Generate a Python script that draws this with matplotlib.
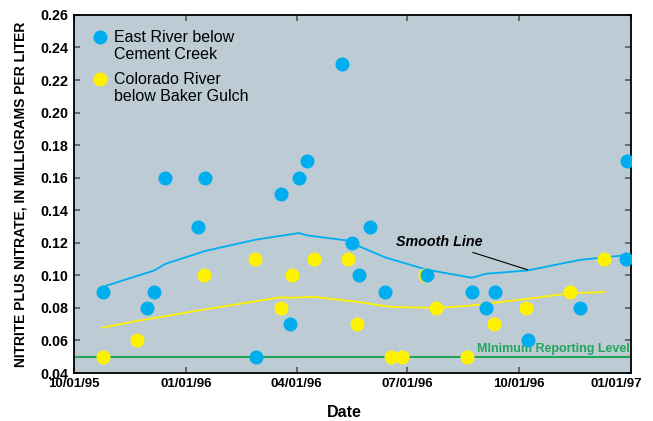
#!/usr/bin/env python
"""
Nitrite plus nitrate at two river sites, Oct 1995 - Dec 1996
"""

import matplotlib
matplotlib.use("Agg")
import matplotlib.pyplot as plt
import matplotlib.transforms as mtransforms
from matplotlib.legend_handler import HandlerLine2D
import numpy as np

plt.rcParams['font.family'] = ['Liberation Sans', 'DejaVu Sans']

# sample dates and values, East River below Cement Creek
EAST_DATES = ["1995-10-25", "1995-11-30", "1995-12-06", "1995-12-15",
              "1996-01-11", "1996-01-17", "1996-02-28", "1996-03-19",
              "1996-03-27", "1996-04-03", "1996-04-10", "1996-05-08",
              "1996-05-17", "1996-05-22", "1996-05-31", "1996-06-13",
              "1996-07-17", "1996-08-23", "1996-09-04", "1996-09-11",
              "1996-10-08", "1996-11-20", "1996-12-29", "1996-12-28"]
EAST_VALUES = [0.09, 0.08, 0.09, 0.16, 0.13, 0.16, 0.05, 0.15,
               0.07, 0.16, 0.17, 0.23, 0.12, 0.10, 0.13, 0.09,
               0.10, 0.09, 0.08, 0.09, 0.06, 0.08, 0.17, 0.11]

# sample dates and values, Colorado River below Baker Gulch
COLO_DATES = ["1995-10-25", "1995-11-22", "1996-01-16", "1996-02-27",
              "1996-03-19", "1996-03-28", "1996-04-15", "1996-05-13",
              "1996-05-21", "1996-06-18", "1996-06-27", "1996-07-16",
              "1996-07-25", "1996-08-19", "1996-09-10", "1996-10-07",
              "1996-11-12", "1996-12-10"]
COLO_VALUES = [0.05, 0.06, 0.10, 0.11, 0.08, 0.10, 0.11, 0.11,
               0.07, 0.05, 0.05, 0.10, 0.08, 0.05, 0.07, 0.08,
               0.09, 0.11]

# smooth lines
EAST_SMOOTH_DATES = ["1995-10-25", "1995-12-06", "1995-12-15", "1996-01-17",
                     "1996-02-28", "1996-04-03", "1996-04-10", "1996-05-17",
                     "1996-05-22", "1996-06-13", "1996-07-17", "1996-08-23",
                     "1996-09-04", "1996-10-08", "1996-11-20", "1996-12-29"]
EAST_SMOOTH = [0.093, 0.103, 0.107, 0.115, 0.122, 0.126, 0.1245, 0.121,
               0.118, 0.111, 0.1035, 0.0985, 0.101, 0.103, 0.1095, 0.1125]

COLO_SMOOTH_DATES = ["1995-10-25", "1995-11-22", "1996-01-16", "1996-03-19",
                     "1996-03-28", "1996-04-15", "1996-05-21", "1996-06-18",
                     "1996-07-25", "1996-08-19", "1996-10-07", "1996-11-12",
                     "1996-12-10"]
COLO_SMOOTH = [0.068, 0.072, 0.079, 0.0865, 0.0862, 0.0868, 0.0837, 0.0806,
               0.080, 0.0812, 0.0855, 0.089, 0.0897]

MIN_REPORTING = 0.05

TICK_DATES = ["1995-10-01", "1996-01-01", "1996-04-01", "1996-07-01",
              "1996-10-01", "1997-01-01"]
TICK_LABELS = ["10/01/95", "01/01/96", "04/01/96", "07/01/96",
               "10/01/96", "01/01/97"]

BLUE = "#00aeef"
YELLOW = "#fff200"
GREEN = "#22a65a"


def to_dates(values):
    return np.array(values, dtype="datetime64[D]")


class TopLineHandler(HandlerLine2D):
    # put the legend dot next to the first text line, not the middle
    def create_artists(self, legend, orig_handle, xdescent, ydescent,
                       width, height, fontsize, trans):
        artists = super().create_artists(legend, orig_handle, xdescent,
                                         ydescent, width, height, fontsize,
                                         trans)
        shift = mtransforms.Affine2D().translate(0, 9.5)
        for a in artists:
            a.set_transform(a.get_transform() + shift)
        return artists


fig = plt.figure(figsize=(6.53, 4.21), dpi=100)
ax = fig.add_axes([0.1133, 0.114, 0.853, 0.8506])
ax.set_facecolor("#bdccd4")

# minimum reporting level
ax.axhline(MIN_REPORTING, color=GREEN, lw=1.5, zorder=1)
ax.text(0.997, MIN_REPORTING + 0.0008, "MInimum Reporting Level",
        transform=mtransforms.blended_transform_factory(ax.transAxes, ax.transData),
        ha="right", va="bottom", color=GREEN, fontsize=9, fontweight="bold")

# smooth lines
ax.plot(to_dates(EAST_SMOOTH_DATES), EAST_SMOOTH, color=BLUE, lw=1.3, zorder=2)
ax.plot(to_dates(COLO_SMOOTH_DATES), COLO_SMOOTH, color=YELLOW, lw=1.3, zorder=2)

# data points
ax.plot(to_dates(COLO_DATES), COLO_VALUES, "o", color=YELLOW, ms=10.1,
        mew=0, zorder=3, label="Colorado River\nbelow Baker Gulch")
ax.plot(to_dates(EAST_DATES), EAST_VALUES, "o", color=BLUE, ms=10.1,
        mew=0, zorder=4, label="East River below\nCement Creek")

ax.annotate("Smooth Line", xy=(np.datetime64("1996-10-08"), 0.1034),
            xytext=(np.datetime64("1996-09-01"), 0.1206),
            ha="right", va="center", fontsize=10.3, fontweight="bold",
            fontstyle="italic",
            arrowprops=dict(arrowstyle="-", color="black", lw=0.8,
                            shrinkA=2, shrinkB=0))

handles, labels = ax.get_legend_handles_labels()
ax.legend(handles[::-1], labels[::-1], loc="upper left", frameon=False,
          bbox_to_anchor=(0.0145, 0.99),
          fontsize=11.5, handlelength=0.8, handletextpad=0.5,
          labelspacing=0.6, borderaxespad=0.3, borderpad=0.4,
          handler_map={h: TopLineHandler() for h in handles})

ax.set_ylim(0.04, 0.26)
ax.set_yticks(np.arange(0.04, 0.261, 0.02))
ax.set_yticklabels(["%.2f" % v for v in np.arange(0.04, 0.261, 0.02)])
ax.set_xlim(np.datetime64("1995-10-01"), np.datetime64("1997-01-01"))
ax.set_xticks(to_dates(TICK_DATES))
ax.set_xticklabels(TICK_LABELS)

ax.tick_params(direction="in", length=4.5, width=1.2, color="#555555",
               top=True, right=True, labelsize=10.3, pad=4)
ax.tick_params(axis="x", labelsize=9.5, pad=3.5)
for lab in ax.get_xticklabels() + ax.get_yticklabels():
    lab.set_fontweight("bold")
for sp in ax.spines.values():
    sp.set_linewidth(1.3)

# last date label is pulled in so it stays inside the picture
last = ax.get_xticklabels()[-1]
last.set_horizontalalignment("right")
last.set_transform(last.get_transform() +
                   mtransforms.ScaledTranslation(0.11, 0, fig.dpi_scale_trans))

ax.set_xlabel("Date", fontsize=11.5, fontweight="bold")
ax.xaxis.set_label_coords(0.4847, -0.089)
ax.set_ylabel("NITRITE PLUS NITRATE, IN MILLIGRAMS PER LITER",
              fontsize=10, fontweight="bold", labelpad=9)

fig.savefig("out.png", dpi=100)
